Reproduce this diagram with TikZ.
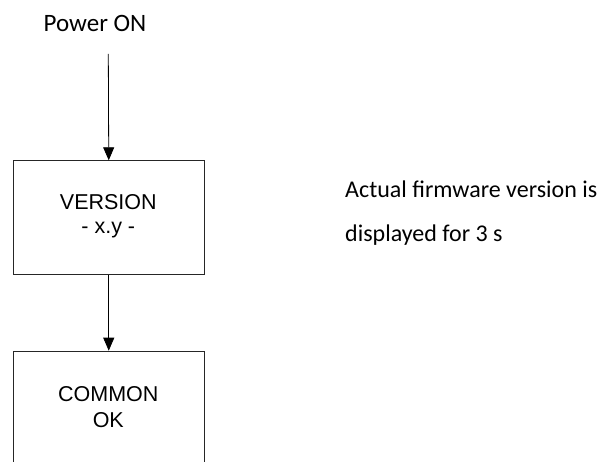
\documentclass[tikz,border=0pt]{standalone}
\usepackage{fontspec}
\setmainfont{Carlito}
\newfontfamily\arialfont{Liberation Sans}
\usetikzlibrary{arrows.meta}
\begin{document}
\begin{tikzpicture}[x=1pt,y=-1pt,
  stepbox/.style={draw=black!85,line width=0.8pt,rectangle,inner sep=0pt,minimum width=191.3pt},
  boxtext/.style={font=\arialfont\fontsize{21.5}{24}\selectfont,anchor=base,inner sep=0pt},
  plaintext/.style={font=\fontsize{24}{28}\selectfont,anchor=base west,inner sep=0pt},
  flow/.style={draw=black,line width=0.8pt,-{Triangle[length=13pt,width=11pt]}}]
\useasboundingbox (0,0) rectangle (600,462);
\clip (0,0) rectangle (600,462);
\node[font=\fontsize{25}{30}\selectfont,anchor=base,inner sep=0pt] (pwr) at (95,32) {Power ON};
\coordinate (start) at (108.3,54);
\node[stepbox,minimum height=114pt,anchor=north west] (v) at (12.7,160.3) {};
\node[boxtext] (v1) at (108.3,210) {VERSION};
\node[boxtext] (v2) at (108.3,234) {- x.y -};
\node[stepbox,minimum height=140pt,anchor=north west] (c) at (12.7,350.7) {};
\node[boxtext] (c1) at (108.3,401) {COMMON};
\node[boxtext] (c2) at (108.3,427) {OK};
\node[plaintext] (n1) at (345,198) {Actual firmware version is};
\node[plaintext] (n2) at (345,242) {displayed for 3 s};
\draw[flow] (start) -- (v.north);
\draw[flow] (v.south) -- (c.north);
\end{tikzpicture}
\end{document}
